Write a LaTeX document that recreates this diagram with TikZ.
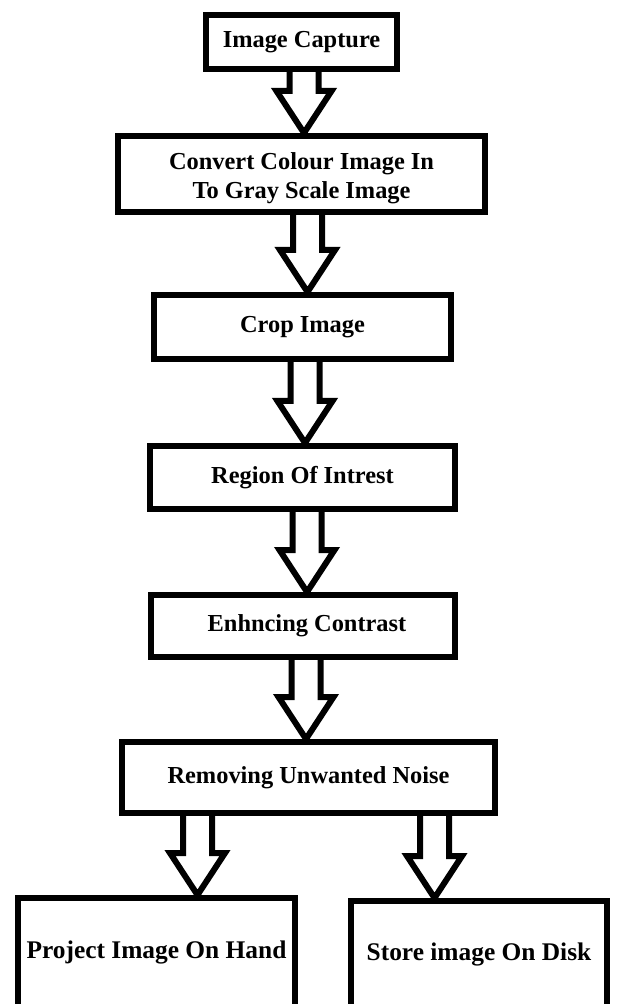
\documentclass[tikz,border=0pt]{standalone}
\usepackage{fontspec}
\setmainfont{Liberation Serif}
\usetikzlibrary{calc}

\tikzset{
  stage/.style={draw, line width=3pt, inner sep=0pt, align=center, fill=white,
    font=\bfseries\fontsize{12.2}{14.5}\selectfont},
  endstage/.style={stage, font=\bfseries\fontsize{12.7}{15}\selectfont},
  blockline/.style={line width=3pt, line join=miter},
}
% hollow block arrow from the bottom of one stage to the top of the next
\newcommand{\blockarrow}[3][0]{%
  \draw[blockline] let \p1=($(#2.south)+(#1,0)$), \p2=(#3.north) in
    (\x1-7.25pt,\y1) -- (\x1-7.25pt,\y2+21pt) -- (\x1-13.75pt,\y2+21pt) -- (\x1,\y2)
    -- (\x1+13.75pt,\y2+21pt) -- (\x1+7.25pt,\y2+21pt) -- (\x1+7.25pt,\y1);}

\begin{document}
\begin{tikzpicture}[x=0.5pt,y=-0.5pt]
\useasboundingbox (0,0) rectangle (618,1004);
\clip (0,0) rectangle (618,1004);
\fill[white] (0,0) rectangle (618,1004);
% stages, placed at pixel positions of the scan
\node[stage, minimum width=95.5pt, minimum height=27pt] (capture) at (301.5,42) {Image Capture};
\node[stage, minimum width=183.5pt, minimum height=38pt] (gray) at (301.5,174) {\rule{0pt}{12.5pt}Convert Colour Image In\\To Gray Scale Image};
\node[stage, minimum width=148.5pt, minimum height=32pt] (crop) at (302.5,327) {Crop Image};
\node[stage, minimum width=152.5pt, minimum height=31.5pt] (roi) at (302.5,477.5) {Region Of Intrest};
\node[stage, minimum width=152pt, minimum height=31pt] (contrast) at (303,626) {\hspace{4pt}Enhncing Contrast};
\node[stage, minimum width=186.5pt, minimum height=35.5pt] (noise) at (308.5,777.5) {Removing Unwanted Noise};
\node[endstage, minimum width=138.5pt, minimum height=54.5pt] (project) at (156.5,952.5) {Project Image On Hand};
\node[endstage, minimum width=128pt, minimum height=53pt] (store) at (479,954) {Store image On Disk};
\foreach \s/\a/\b in {2.5/capture/gray, 6/gray/crop, 2.5/crop/roi, 4.5/roi/contrast,
                      3/contrast/noise, -111/noise/project, 126/noise/store}
  \blockarrow[\s]{\a}{\b};
\end{tikzpicture}
\end{document}
